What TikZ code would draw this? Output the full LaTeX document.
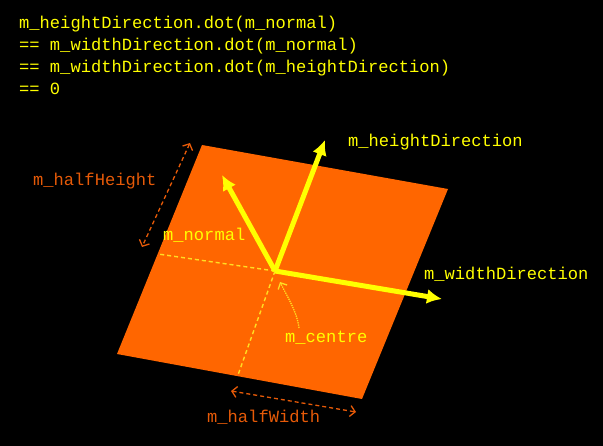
\documentclass[tikz,border=0pt]{standalone}
\usepackage{fontspec}
\setmonofont{Liberation Mono}
\usepackage{tikz}
\usetikzlibrary{arrows.meta,positioning,calc}
\definecolor{plane}{HTML}{FF6600}
\definecolor{dim}{HTML}{E65A08}
\definecolor{axis}{HTML}{FFFF00}
\definecolor{guide}{HTML}{FFDD22}

\begin{document}
\begin{tikzpicture}[
x=1pt, y=-1pt,
>={Latex[length=15pt,width=15pt]},
label-yellow/.style = {text=axis,inner sep=0pt,anchor=base west,font=\ttfamily\fontsize{17.1}{22}\selectfont},
label-orange/.style = {label-yellow,text=dim},
axis-arrow/.style = {->,draw=axis,line width=5pt},
half-line/.style = {draw=guide,line width=1.4pt,dash pattern=on 4pt off 3pt},
dim-arrow/.style = {{Straight Barb[length=5pt,width=11pt]}-{Straight Barb[length=5pt,width=11pt]},draw=dim,line width=1.3pt,dash pattern=on 4pt off 3pt}
]

\useasboundingbox[fill=black] (0,0) rectangle (603,446);

% plane
\coordinate (tl) at (202,145);
\coordinate (tr) at (448,189);
\coordinate (br) at (362,399);
\coordinate (bl) at (117,354);
\fill[plane] (tl) -- (tr) -- (br) -- (bl) -- cycle;

\coordinate (centre) at (275,271);
\coordinate (left-mid) at (158,254);
\coordinate (bottom-mid) at (238,375);
\coordinate (normal-tip) at (222,175);
\coordinate (height-tip) at (325,140);
\coordinate (width-tip) at (442,299);
\coordinate (hh-a) at (190,143);
\coordinate (hh-b) at (142,247);
\coordinate (hw-a) at (231,391);
\coordinate (hw-b) at (356,412);
\coordinate (centre-from) at (299,328);
\coordinate (centre-to) at (280,282);

% labels
\node [label-yellow,align=left] (dots) at (19,95) {m\_heightDirection.dot(m\_normal)\\
== m\_widthDirection.dot(m\_normal)\\
== m\_widthDirection.dot(m\_heightDirection)\\
== 0};
\node [label-yellow] (heightlabel) at (348,147) {m\_heightDirection};
\node [label-orange] (halfheight) at (33,186) {m\_halfHeight};
\node [label-yellow] (normallabel) at (163,241) {m\_normal};
\node [label-yellow] (widthlabel) at (424,280) {m\_widthDirection};
\node [label-yellow] (centrelabel) at (285,343) {m\_centre};
\node [label-orange] (halfwidth) at (207,423) {m\_halfWidth};

% half extents
\draw[half-line] (centre) -- (left-mid);
\draw[half-line] (centre) -- (bottom-mid);
\draw[dim-arrow] (hh-a) -- (hh-b);
\draw[dim-arrow] (hw-a) -- (hw-b);
\draw[-{Straight Barb[length=5pt,width=10pt]},draw=guide,line width=1.3pt,densely dotted] (centre-from) .. controls (297,312) and (288,298) .. (centre-to);

% arrows
\draw[axis-arrow] (centre) -- (normal-tip);
\draw[axis-arrow] (centre) -- (height-tip);
\draw[axis-arrow] (centre) -- (width-tip);

\end{tikzpicture}
\end{document}
